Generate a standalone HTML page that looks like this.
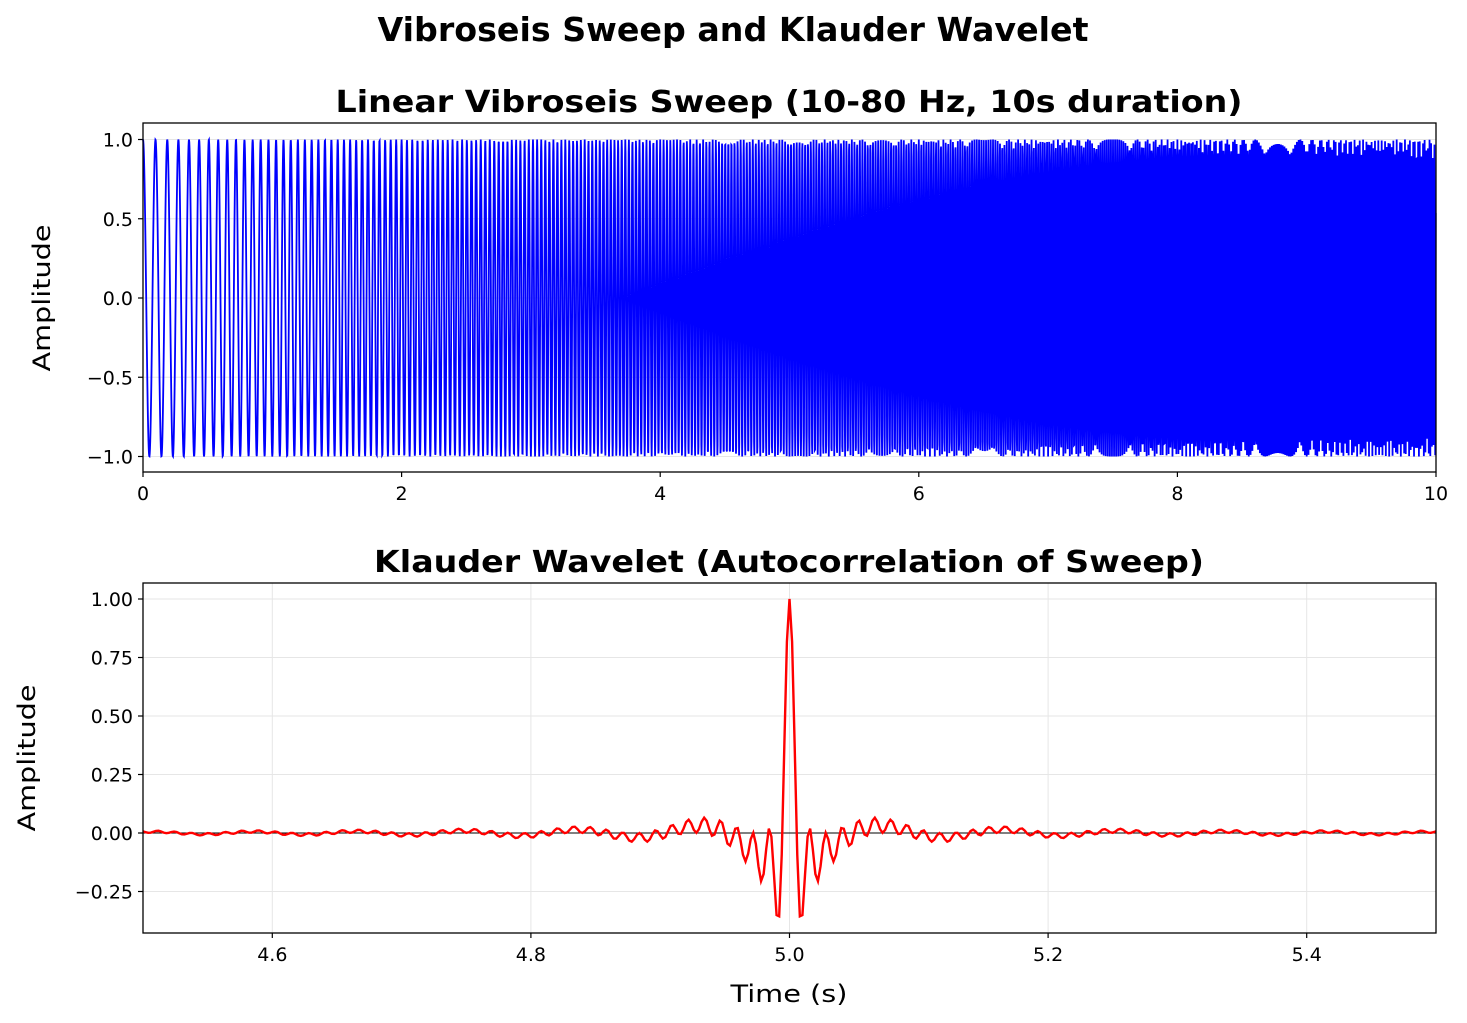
<!DOCTYPE html>
<html><head><meta charset="utf-8"><style>
html,body{margin:0;padding:0;background:#fff;}
svg{display:block;font-family:"DejaVu Sans","Liberation Sans",sans-serif;}
</style></head><body>
<svg id="s" width="1467" height="1023" viewBox="0 0 1467 1023" xmlns="http://www.w3.org/2000/svg">
<rect width="1467" height="1023" fill="#fff"/>
<text x="733" y="41" font-size="33" font-weight="bold" text-anchor="middle" textLength="711" lengthAdjust="spacingAndGlyphs">Vibroseis Sweep and Klauder Wavelet</text>
<text x="789" y="112" font-size="30" font-weight="bold" text-anchor="middle" textLength="907" lengthAdjust="spacingAndGlyphs">Linear Vibroseis Sweep (10-80 Hz, 10s duration)</text>
<text x="789" y="572" font-size="30" font-weight="bold" text-anchor="middle" textLength="830" lengthAdjust="spacingAndGlyphs">Klauder Wavelet (Autocorrelation of Sweep)</text>
<g id="g1"></g><g id="g2"></g>
<text x="50" y="298" font-size="24" text-anchor="middle" transform="rotate(-90 50 298)" textLength="147" lengthAdjust="spacingAndGlyphs">Amplitude</text>
<text x="35" y="758" font-size="24" text-anchor="middle" transform="rotate(-90 35 758)" textLength="147" lengthAdjust="spacingAndGlyphs">Amplitude</text>
<text x="789" y="1002" font-size="24" text-anchor="middle" textLength="117" lengthAdjust="spacingAndGlyphs">Time (s)</text>
</svg>
<script>
var NS="http://www.w3.org/2000/svg";
function el(p,t,a,txt){var e=document.createElementNS(NS,t);for(var k in a)e.setAttribute(k,a[k]);if(txt!==undefined)e.textContent=txt;p.appendChild(e);return e;}
var fs=500,T=10,N=fs*T,s=[];
for(var i=0;i<N;i++){var t=i/fs;s.push(Math.cos(2*Math.PI*(10*t+3.5*t*t)));}
var g1=document.getElementById('g1');
var L=143,R=1436,T1=123,B1=472;
function X1(t){return L+(t/10)*(R-L);} function Y1(v){return 298-v*158.5;}
[-1,-0.5,0,0.5,1].forEach(function(v){el(g1,'line',{x1:L,x2:R,y1:Y1(v),y2:Y1(v),stroke:'#e6e6e6','stroke-width':1});
 el(g1,'line',{x1:L-5,x2:L,y1:Y1(v),y2:Y1(v),stroke:'#000','stroke-width':1.2});
 el(g1,'text',{x:L-10,y:Y1(v)+7,'font-size':19,'text-anchor':'end'},(v<0?'\u2212':'')+Math.abs(v).toFixed(1));});
[0,2,4,6,8,10].forEach(function(v){el(g1,'line',{x1:X1(v),x2:X1(v),y1:B1,y2:B1+5,stroke:'#000','stroke-width':1.2});
 el(g1,'text',{x:X1(v),y:B1+28,'font-size':19,'text-anchor':'middle'},String(v));});
var d='';for(var i=0;i<N;i++){d+=(i?'L':'M')+X1(i/fs).toFixed(2)+' '+Y1(s[i]).toFixed(2);}
el(g1,'path',{d:d,fill:'none',stroke:'#0000ff','stroke-width':1.8});
el(g1,'rect',{x:L,y:T1,width:R-L,height:B1-T1,fill:'none',stroke:'#000','stroke-width':1.3});
var g2=document.getElementById('g2');var T2=583,B2=933;
function X2(t){return L+(t-4.5)*(R-L);} function Y2(v){return 833-v*234;}
[4.6,4.8,5.0,5.2,5.4].forEach(function(v){el(g2,'line',{x1:X2(v),x2:X2(v),y1:T2,y2:B2,stroke:'#e6e6e6','stroke-width':1});
 el(g2,'line',{x1:X2(v),x2:X2(v),y1:B2,y2:B2+5,stroke:'#000','stroke-width':1.2});
 el(g2,'text',{x:X2(v),y:B2+28,'font-size':19,'text-anchor':'middle'},v.toFixed(1));});
[-0.25,0,0.25,0.5,0.75,1].forEach(function(v){el(g2,'line',{x1:L,x2:R,y1:Y2(v),y2:Y2(v),stroke:'#e6e6e6','stroke-width':1});
 el(g2,'line',{x1:L-5,x2:L,y1:Y2(v),y2:Y2(v),stroke:'#000','stroke-width':1.2});
 el(g2,'text',{x:L-10,y:Y2(v)+7,'font-size':19,'text-anchor':'end'},(v<0?'\u2212':'')+Math.abs(v).toFixed(2));});
el(g2,'line',{x1:L,x2:R,y1:Y2(0),y2:Y2(0),stroke:'#000','stroke-width':1});
var M=250,r=[];
for(var k=-M;k<=M;k++){var a=Math.abs(k),sum=0;for(var i=0;i<N-a;i++)sum+=s[i]*s[i+a];r.push(sum);}
var r0=r[M];d='';
for(var j=0;j<r.length;j++){var t=5+(j-M)/fs;d+=(j?'L':'M')+X2(t).toFixed(2)+' '+Y2(r[j]/r0).toFixed(2);}
el(g2,'path',{d:d,fill:'none',stroke:'#ff0000','stroke-width':2.4});
el(g2,'rect',{x:L,y:T2,width:R-L,height:B2-T2,fill:'none',stroke:'#000','stroke-width':1.3});
</script>
</body></html>
